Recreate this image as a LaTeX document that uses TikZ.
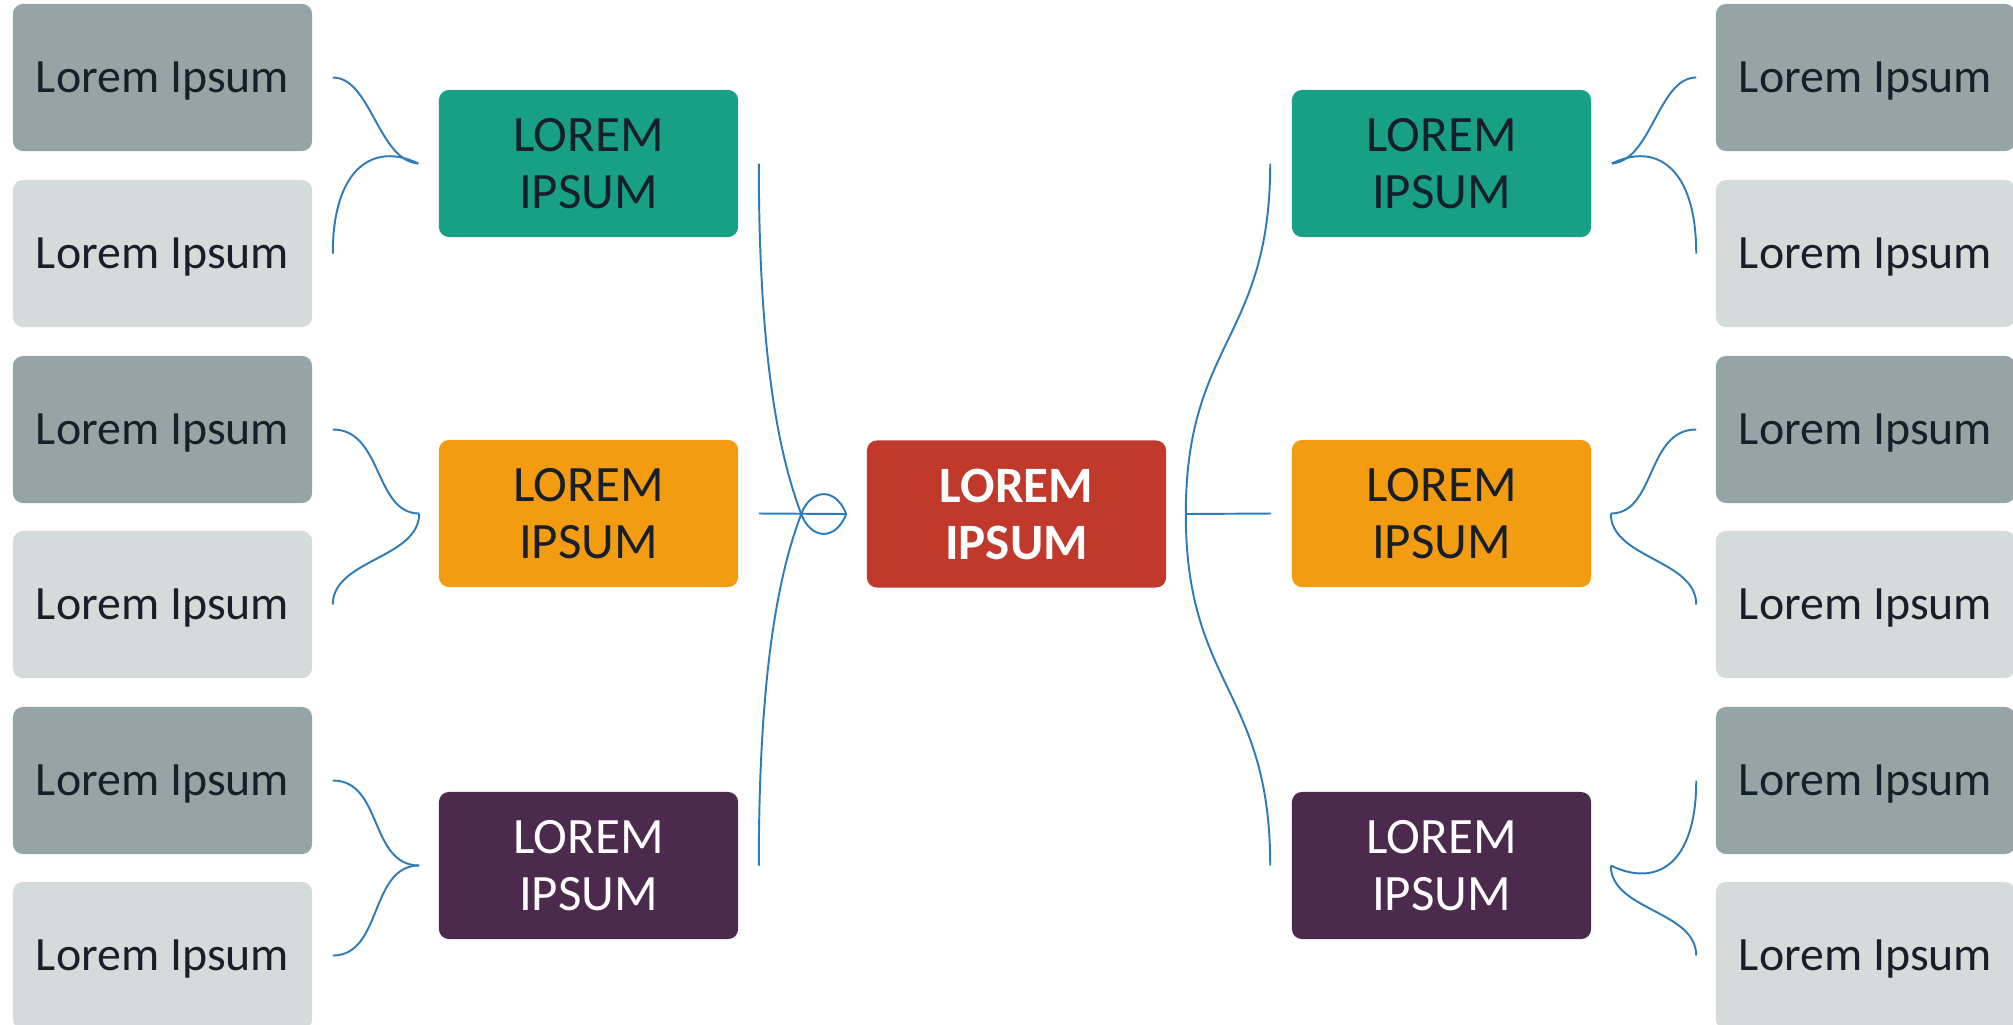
\documentclass[tikz,border=0pt]{standalone}
\usepackage{fontspec}
\setmainfont{Carlito}
\usetikzlibrary{calc}
\definecolor{gdark}{HTML}{95A5A6}
\definecolor{glight}{HTML}{D5DBDB}
\definecolor{cteal}{HTML}{17A085}
\definecolor{corange}{HTML}{F39C12}
\definecolor{cpurple}{HTML}{4C2A4D}
\definecolor{cred}{HTML}{C0392B}
\definecolor{ctext}{HTML}{17202A}
\definecolor{cline}{HTML}{2E7BBA}
\tikzset{
  gbox/.style={rectangle, rounded corners=0.1cm, minimum width=2.99cm, minimum height=1.47cm, inner sep=0pt, text depth=0pt, text=ctext, font=\fontsize{13.6}{16}\selectfont},
  gd/.style={gbox, fill=gdark},
  gl/.style={gbox, fill=glight},
  cbox/.style={rectangle, rounded corners=0.1cm, minimum width=2.99cm, minimum height=1.47cm, inner sep=0pt, align=center, font=\fontsize{14.5}{16.2}\selectfont},
  conn/.style={draw=cline, line width=0.55pt}
}
\begin{document}
\begin{tikzpicture}[x=0.01cm, y=-0.01cm]
\useasboundingbox (0,0) rectangle (2013,1024);
% left gray boxes
\node[gd] (gl1) at (162.5,77.5) {Lorem Ipsum};
\node[gl] (gl2) at (162.5,253.5) {Lorem Ipsum};
\node[gd] (gl3) at (162.5,429.5) {Lorem Ipsum};
\node[gl] (gl4) at (162.5,604.5) {Lorem Ipsum};
\node[gd] (gl5) at (162.5,780.5) {Lorem Ipsum};
\node[gl] (gl6) at (162.5,955.5) {Lorem Ipsum};
% right gray boxes
\node[gd] (gr1) at (1865.5,77.5) {Lorem Ipsum};
\node[gl] (gr2) at (1865.5,253.5) {Lorem Ipsum};
\node[gd] (gr3) at (1865.5,429.5) {Lorem Ipsum};
\node[gl] (gr4) at (1865.5,604.5) {Lorem Ipsum};
\node[gd] (gr5) at (1865.5,780.5) {Lorem Ipsum};
\node[gl] (gr6) at (1865.5,955.5) {Lorem Ipsum};
% colored boxes
\node[cbox, fill=cteal, text=ctext] (lt) at (588.5,163.5) {LOREM\\IPSUM};
\node[cbox, fill=corange, text=ctext] (lm) at (588.5,513.5) {LOREM\\IPSUM};
\node[cbox, fill=cpurple, text=white] (lb) at (588.5,865.5) {LOREM\\IPSUM};
\node[cbox, fill=cteal, text=ctext] (rt) at (1441.5,163.5) {LOREM\\IPSUM};
\node[cbox, fill=corange, text=ctext] (rm) at (1441.5,513.5) {LOREM\\IPSUM};
\node[cbox, fill=cpurple, text=white] (rb) at (1441.5,865.5) {LOREM\\IPSUM};
\node[cbox, fill=cred, text=white, font=\fontsize{14.5}{16.2}\selectfont\bfseries] (c) at (1016.5,514) {LOREM\\IPSUM};
% connector end points
\foreach \n in {1,...,6}{
  \coordinate (a\n) at ($(gl\n.east)+(20,0)$);
  \coordinate (b\n) at ($(gr\n.west)+(-19,0)$);
}
\coordinate (elt) at ($(lt.west)+(-20,0)$);
\coordinate (elm) at ($(lm.west)+(-19,0)$);
\coordinate (elb) at ($(lb.west)+(-19,0)$);
\coordinate (ert) at ($(rt.east)+(20,0)$);
\coordinate (erm) at ($(rm.east)+(19,0)$);
\coordinate (erb) at ($(rb.east)+(19,0)$);
\coordinate (ltR) at ($(lt.east)+(20,0)$);
\coordinate (lmR) at ($(lm.east)+(20,0)$);
\coordinate (lbR) at ($(lb.east)+(20,0)$);
\coordinate (rtL) at ($(rt.west)+(-21,0)$);
\coordinate (rmL) at ($(rm.west)+(-20,0)$);
\coordinate (rbL) at ($(rb.west)+(-21,0)$);
\coordinate (cL) at ($(c.west)+(-20,0)$);
\coordinate (cR) at ($(c.east)+(19,0)$);
\coordinate (X) at ($(cL)+(-45,0)$);
% small left connectors
\draw[conn] (a1) .. controls +(38,0) and +(-40,-3) .. (elt);
\draw[conn] (a2) .. controls +(0,-85) and +(-45,-22) .. (elt);
\draw[conn] (a3) .. controls +(50,0) and +(-45,0) .. (elm);
\draw[conn] (a4) .. controls +(0,-45) and +(0,45) .. (elm);
\draw[conn] (a5) .. controls +(50,0) and +(-50,0) .. (elb);
\draw[conn] (a6) .. controls +(50,0) and +(-50,0) .. (elb);
% small right connectors
\draw[conn] (b1) .. controls +(-38,0) and +(40,-3) .. (ert);
\draw[conn] (b2) .. controls +(0,-85) and +(45,-22) .. (ert);
\draw[conn] (b3) .. controls +(-50,0) and +(45,0) .. (erm);
\draw[conn] (b4) .. controls +(0,-45) and +(0,45) .. (erm);
\draw[conn] (b5) .. controls +(0,85) and +(45,22) .. (erb);
\draw[conn] (b6) .. controls +(0,-45) and +(0,45) .. (erb);
% big left connectors
\draw[conn] (ltR) .. controls +(0,216) and +(-17,-45.5) .. (X) .. controls +(10,26.5) and +(-10,26.5) .. (cL);
\draw[conn] (lbR) .. controls +(0,-218) and +(-17,45.5) .. (X) .. controls +(10,-26.5) and +(-10,-26.5) .. (cL);
\draw[conn] (lmR) -- (cL);
% big right connectors
\draw[conn] (rtL) .. controls +(0,176) and +(0,-173) .. (cR);
\draw[conn] (cR) .. controls +(0,173) and +(0,-176) .. (rbL);
\draw[conn] (cR) -- (rmL);
\end{tikzpicture}
\end{document}
